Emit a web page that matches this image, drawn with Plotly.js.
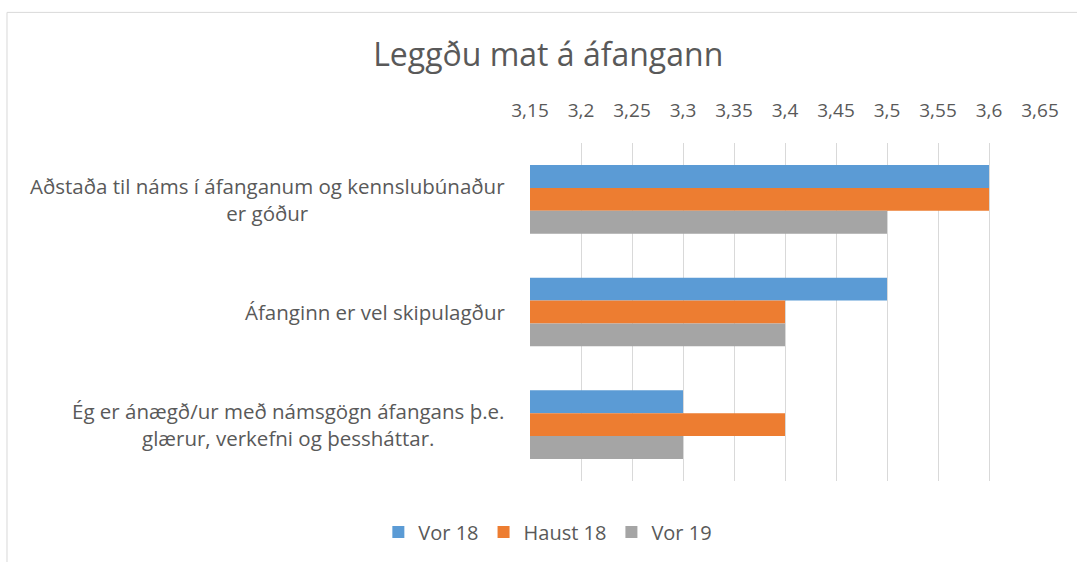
<!DOCTYPE html>
<html>
<head>
<meta charset="utf-8">
<script src="https://cdn.plot.ly/plotly-3.0.1.min.js"></script>
<style>html,body{margin:0;padding:0;background:#fff;}#chart{width:1077px;height:562px;}</style>
</head>
<body>
<div id="chart"></div>
<script>
var categories = [
  "Aðstaða til náms í áfanganum og kennslubúnaður<br>er góður",
  "Áfanginn er vel skipulagður",
  "Ég er ánægð/ur með námsgögn áfangans þ.e.<br>glærur, verkefni og þessháttar."
];
var seriesNames = ["Vor 18", "Haust 18", "Vor 19"];
var vor18 = [3.6, 3.5, 3.3];
var haust18 = [3.6, 3.4, 3.4];
var vor19 = [3.5, 3.4, 3.3];
var colors = ["#5B9BD5", "#ED7D31", "#A5A5A5"];
var xTicks = [3.15, 3.2, 3.25, 3.3, 3.35, 3.4, 3.45, 3.5, 3.55, 3.6, 3.65];
var xTickLabels = ["3,15", "3,2", "3,25", "3,3", "3,35", "3,4", "3,45", "3,5", "3,55", "3,6", "3,65"];

var FONT = "'Open Sans', Lato, sans-serif";
var series = [vor18, haust18, vor19];
var traces = series.map(function (vals, i) {
  return {
    type: "bar",
    orientation: "h",
    name: seriesNames[i],
    y: categories,
    x: vals,
    base: 0,
    marker: { color: colors[i] },
    hoverinfo: "x+name"
  };
});

var annotations = categories.map(function (c) {
  return {
    xref: "paper", yref: "y", x: -0.045, y: c,
    xanchor: "right", yanchor: "middle", align: "center",
    text: c, showarrow: false,
    font: { family: FONT, size: 20.5, color: "#595959" }
  };
});

var layout = {
  width: 1077, height: 562,
  margin: { l: 530, r: 37, t: 143, b: 80 },
  paper_bgcolor: "#fff", plot_bgcolor: "#fff",
  separators: ", ",
  barmode: "group",
  bargap: 0.39,
  bargroupgap: 0,
  title: {
    text: "Leggðu mat á áfangann",
    x: 0.509, xref: "container", xanchor: "center",
    y: 0.902, yref: "container", yanchor: "middle",
    font: { family: FONT, size: 32, color: "#595959" }
  },
  xaxis: {
    side: "top",
    range: [3.15, 3.65],
    tickvals: xTicks,
    ticktext: xTickLabels,
    showgrid: true, gridcolor: "#D9D9D9", gridwidth: 1,
    zeroline: false, showline: false,
    ticks: "", ticklabelstandoff: 21,
    tickfont: { family: FONT, size: 19, color: "#595959" },
    fixedrange: true
  },
  yaxis: {
    type: "category",
    autorange: "reversed",
    showticklabels: false,
    showgrid: false, zeroline: false, showline: false,
    fixedrange: true
  },
  showlegend: true,
  legend: {
    orientation: "h",
    x: 0.035, xanchor: "center",
    y: -0.1475, yanchor: "middle",
    traceorder: "normal",
    font: { family: FONT, size: 20, color: "#595959" },
    itemwidth: 30
  },
  annotations: annotations,
  shapes: [{
    type: "rect", xref: "paper", yref: "paper",
    x0: -1.0255, x1: 1.2, y0: -0.4, y1: 1.3864,
    line: { color: "#D9D9D9", width: 1 }, fillcolor: "rgba(0,0,0,0)", layer: "below"
  }]
};

Plotly.newPlot("chart", traces, layout, { displayModeBar: false, staticPlot: true });
</script>
</body>
</html>
